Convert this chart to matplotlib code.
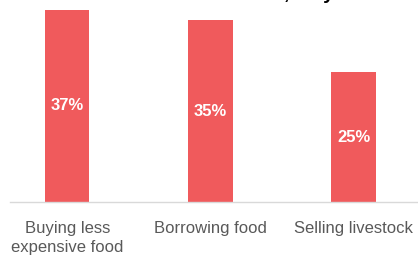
import matplotlib
matplotlib.use("Agg")
import matplotlib.pyplot as plt

# coping strategies, share of households (%)
categories = ["Buying less\nexpensive food", "Borrowing food", "Selling livestock"]
values = [37, 35, 25]
labels = ["37%", "35%", "25%"]

BAR = "#F05A5C"
GREY = "#595959"
SANS = ["Liberation Sans", "DejaVu Sans"]

W, H = 418, 259
fig = plt.figure(figsize=(W / 100, H / 100), dpi=100)
# axes: x from 10 px to right edge, y from top edge down to baseline at 202 px
ax = fig.add_axes([10 / W, (H - 202) / H, (W - 10) / W, 202 / H])

x = list(range(len(categories)))
ax.bar(x, values, width=0.31, color=BAR, zorder=2)
for xi, v, lab in zip(x, values, labels):
    ax.text(xi, v / 2, lab, ha="center", va="center", color="white",
            fontsize=12, fontweight="bold", family=SANS)

ax.set_xlim(-0.4, 2.45)
ax.set_ylim(0, 38.9)
ax.set_yticks([])
ax.set_xticks(x)
ax.set_xticklabels(categories, fontsize=12, color=GREY, family=SANS,
                   linespacing=1.3)
ax.tick_params(axis="x", length=0, pad=14)
for s in ("top", "right", "left"):
    ax.spines[s].set_visible(False)
ax.spines["bottom"].set_color("#D9D9D9")
ax.spines["bottom"].set_linewidth(1)

# title sits above the crop; only the descenders of ", July" show
fig.text(334 / W, 1.0 + 1 / H, "Most used actions, July", ha="right",
         va="baseline", fontsize=14, fontweight="bold", color="black",
         family=SANS)

fig.savefig("out.png", dpi=100)
